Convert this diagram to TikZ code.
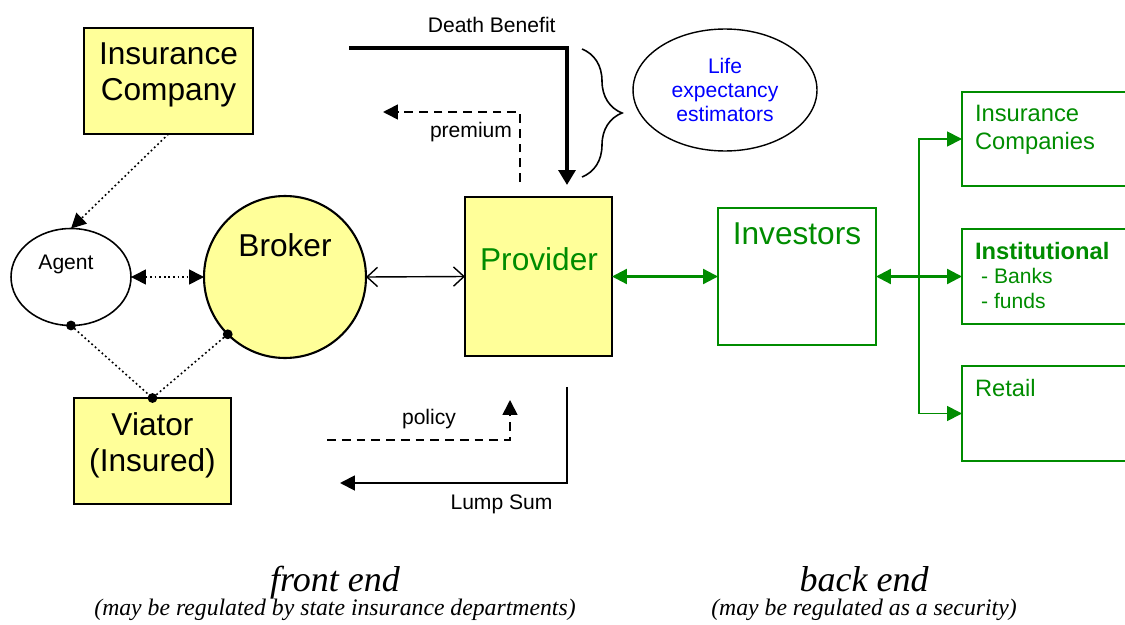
\documentclass[tikz,border=0pt]{standalone}
\usepackage{fontspec}
\setmainfont{Liberation Sans}
\newfontfamily\notefont{Liberation Serif}
\usetikzlibrary{positioning, shapes.geometric, arrows.meta, decorations.pathreplacing, calc}

\definecolor{partyfill}{RGB}{255,255,153}
\definecolor{flowgreen}{RGB}{0,140,0}

\begin{document}
\begin{tikzpicture}[
  x=0.02cm, y=-0.02cm,
  every node/.style={inner sep=0pt, outer sep=0pt},
  party/.style={draw, line width=1.2pt, fill=partyfill},
  market/.style={draw=flowgreen, line width=1pt},
  bigtext/.style={font=\fontsize{18}{20.5}\selectfont, align=center, anchor=base},
  smalltext/.style={font=\fontsize{12}{14}\selectfont, anchor=base},
  sidetext/.style={font=\fontsize{13.5}{15.5}\selectfont, text=flowgreen, align=left, anchor=base west},
  captiontext/.style={font=\notefont\itshape\fontsize{20.5}{24}\selectfont, anchor=base},
  notetext/.style={font=\notefont\itshape\fontsize{13.5}{16}\selectfont, anchor=base},
  dotline/.style={line width=0.9pt, dash pattern=on 1pt off 1.6pt},
  dashline/.style={line width=0.9pt, dash pattern=on 5pt off 3.4pt},
  flowtip/.style={-{Triangle[length=8.5pt,width=8.5pt]}},
  bothtips/.style={{Triangle[length=8.5pt,width=8.5pt]}-{Triangle[length=8.5pt,width=8.5pt]}},
  greenflow/.style={flowgreen, line width=1.3pt}
]
\path[use as bounding box, clip] (0,0) rectangle (1125,625);

% front end parties (multi-line labels sit on their last baseline)
\node[party, minimum width=3.38cm, minimum height=2.12cm] (insurer) at (168.5,81) {};
\node[bigtext] (insurerlbl) at (168.5,100.7) {Insurance\\Company};
\node[draw, ellipse, line width=0.9pt, minimum width=2.4cm, minimum height=1.94cm] (agent) at (71,277) {};
\node[smalltext] (agentlbl) at (66,269) {Agent};
\node[party, circle, minimum size=3.24cm] (broker) at (285,277) {};
\node[bigtext] (brokerlbl) at (285,256.7) {Broker};
\node[party, minimum width=3.14cm, minimum height=2.12cm] (viator) at (152.5,451) {};
\node[bigtext] (viatorlbl) at (152.5,471.7) {Viator\\(Insured)};
\node[party, minimum width=2.94cm, minimum height=3.18cm] (provider) at (538.5,276.5) {};
\node[bigtext, text=flowgreen] (providerlbl) at (539,270.7) {Provider};

\node[draw, ellipse, line width=0.8pt, minimum width=3.68cm, minimum height=2.44cm] (estimators) at (725,90) {};
\node[font=\fontsize{12}{13.4}\selectfont, text=blue, align=center, anchor=base] (estimatorslbl) at (725,121) {Life\\expectancy\\estimators};

% back end
\node[market, minimum width=3.16cm, minimum height=2.74cm] (investors) at (797,276.5) {};
\node[bigtext, text=flowgreen] (investorslbl) at (797,244) {Investors};
\node[market, minimum width=3.4cm, minimum height=1.88cm, anchor=west] (insco) at (962,139) {};
\node[sidetext] (inscolbl) at (975,149) {Insurance\\Companies};
\node[market, minimum width=3.4cm, minimum height=1.9cm, anchor=west] (institutional) at (962,276.5) {};
\node[sidetext, font=\fontsize{12}{13.9}\selectfont] (institutionallbl) at (975,308) {{\fontsize{13.5}{13.9}\selectfont\bfseries Institutional}\\\hspace{3.5pt}- Banks\\\hspace{3.5pt}- funds};
\node[market, minimum width=3.4cm, minimum height=1.9cm, anchor=west] (retail) at (962,413.5) {};
\node[sidetext] (retaillbl) at (975,396) {Retail};

% people links
\draw[dotline, flowtip] (insurer.south) -- (agent.north);
\draw[dotline, bothtips] (agent.east) -- (broker.west);
\draw[dotline] (agent.south) -- (viator.north) -- (broker.south west);
\fill (agent.south) circle[radius=2.8pt] (viator.north) circle[radius=2.8pt] (broker.south west) circle[radius=2.8pt];
\draw[line width=0.8pt, {Straight Barb[length=6pt,width=11pt]}-{Straight Barb[length=6pt,width=11pt]}] (broker.east) -- (provider.west);

% money and paper
\coordinate (benefitstart) at (349,48);
\draw[line width=2.7pt, -{Triangle[length=8.5pt,width=9.5pt]}] (benefitstart) -| ($(provider.north)+(28.5,-12)$);
\node[smalltext] (benefitlbl) at (491.7,33) {Death Benefit};

\coordinate (premiumend) at (383,112);
\draw[dashline, flowtip] ($(provider.north)+(-18.5,-15)$) |- (premiumend);
\node[smalltext] (premiumlbl) at (471,137.7) {premium};

\coordinate (policystart) at (327,440);
\draw[dashline, flowtip] (policystart) -| ($(provider.south)+(-28.5,44)$);
\node[smalltext] (policylbl) at (429,424) {policy};

\coordinate (lumpend) at (340,483);
\draw[line width=1.1pt, flowtip] ($(provider.south)+(28.5,31)$) |- (lumpend);
\node[smalltext] (lumplbl) at (501.5,509) {Lump Sum};

\coordinate (bracetop) at (582,49);
\coordinate (bracebottom) at (582,177);
\draw[line width=0.9pt, decorate, decoration={brace, amplitude=0.8cm}] (bracetop) -- (bracebottom);

% investors
\draw[greenflow, bothtips] (provider.east) -- (investors.west);
\draw[greenflow, bothtips] (investors.east) -- (institutional.west);
\coordinate (hub) at ($(investors.east)!0.5!(institutional.west)$);
\draw[greenflow, line width=1pt, flowtip] (hub) |- (insco.west);
\draw[greenflow, line width=1pt, flowtip] (hub) |- (retail.west);

% captions
\node[captiontext] (frontend) at (335,591) {front end};
\node[notetext] (frontnote) at (335,615) {(may be regulated by state insurance departments)};
\node[captiontext] (backend) at (864,591) {back end};
\node[notetext] (backnote) at (864,615) {(may be regulated as a security)};
\end{tikzpicture}
\end{document}
